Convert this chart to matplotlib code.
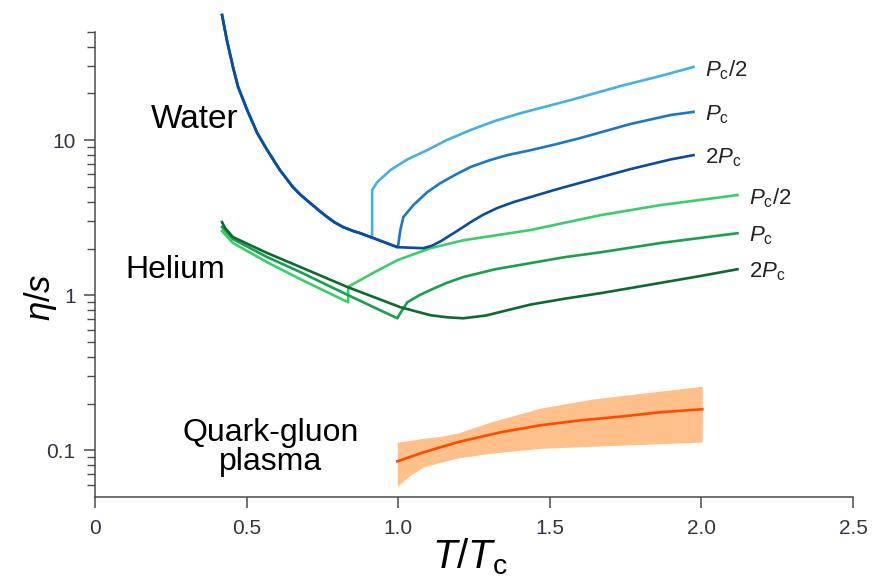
import matplotlib
matplotlib.use("Agg")
import matplotlib.pyplot as plt
from matplotlib.ticker import FixedLocator, NullFormatter, FuncFormatter

plt.rcParams['font.family'] = ['Liberation Sans', 'DejaVu Sans']
plt.rcParams['mathtext.fontset'] = 'custom'
plt.rcParams['mathtext.rm'] = 'Liberation Sans'
plt.rcParams['mathtext.it'] = 'Liberation Sans:italic'

# ---- data (T/Tc, eta/s) ----
# water, shared low-temperature branch
water_low_x = [0.419, 0.435, 0.455, 0.472, 0.502, 0.535, 0.568, 0.61, 0.653, 0.68, 0.71, 0.74, 0.766,
               0.79, 0.818, 0.85, 0.875, 0.914]
water_low_y = [64.0, 44.0, 29.6, 22.0, 15.6, 11.1, 8.62, 6.4, 4.97, 4.4, 3.92, 3.5, 3.19,
               2.95, 2.75, 2.6, 2.51, 2.34]

water_half_x = [0.914, 0.931, 0.974, 1.03, 1.096, 1.16, 1.238, 1.32, 1.403, 1.568, 1.733, 1.865, 1.974]
water_half_y = [4.76, 5.36, 6.4, 7.5, 8.62, 10.0, 11.6, 13.3, 14.9, 18.1, 22.3, 25.9, 29.6]

water_pc_x = [0.94, 0.997, 1.0, 1.007, 1.017, 1.05, 1.096, 1.139, 1.19, 1.238, 1.30, 1.36, 1.436,
              1.52, 1.60, 1.766, 1.898, 1.974]
water_pc_y = [2.25, 2.04, 2.1, 2.63, 3.19, 3.81, 4.62, 5.28, 6.0, 6.7, 7.4, 8.0, 8.6,
              9.4, 10.3, 12.7, 14.5, 15.2]

water_2pc_x = [0.94, 0.997, 1.05, 1.083, 1.11, 1.139, 1.195, 1.238, 1.28, 1.327, 1.38, 1.436, 1.52,
               1.60, 1.766, 1.898, 1.974]
water_2pc_y = [2.25, 2.04, 2.02, 2.01, 2.08, 2.22, 2.6, 2.95, 3.3, 3.65, 3.98, 4.29, 4.8,
               5.3, 6.5, 7.5, 8.0]

# helium
he_half_x = [0.419, 0.455, 0.568, 0.677, 0.835, 0.835, 0.851, 0.917, 0.997, 1.106, 1.215, 1.436,
             1.667, 1.865, 2.119]
he_half_y = [2.59, 2.17, 1.63, 1.27, 0.90, 1.13, 1.18, 1.39, 1.68, 2.01, 2.26, 2.63,
             3.28, 3.81, 4.42]

he_pc_x = [0.419, 0.455, 0.568, 0.677, 0.835, 0.997, 1.013, 1.03, 1.07, 1.106, 1.16, 1.215, 1.32,
           1.436, 1.55, 1.667, 1.865, 2.119]
he_pc_y = [2.75, 2.30, 1.76, 1.41, 1.0, 0.71, 0.80, 0.90, 1.0, 1.08, 1.2, 1.31, 1.47,
           1.61, 1.76, 1.89, 2.17, 2.51]

he_2pc_x = [0.419, 0.429, 0.455, 0.568, 0.677, 0.832, 1.007, 1.106, 1.162, 1.215, 1.29, 1.36, 1.436,
            1.55, 1.667, 1.832, 1.997, 2.119]
he_2pc_y = [2.96, 2.71, 2.37, 1.87, 1.52, 1.13, 0.837, 0.743, 0.72, 0.71, 0.74, 0.80, 0.87,
            0.95, 1.03, 1.17, 1.33, 1.47]

# quark-gluon plasma: central value and band
qgp_x = [0.997, 1.083, 1.195, 1.337, 1.469, 1.601, 1.743, 1.865, 2.003]
qgp_y = [0.0849, 0.097, 0.1127, 0.1306, 0.145, 0.156, 0.1657, 0.176, 0.184]
band_x = [0.997, 1.040, 1.083, 1.139, 1.195, 1.304, 1.469, 1.634, 1.743, 2.003]
band_hi = [0.1127, 0.116, 0.1195, 0.123, 0.129, 0.152, 0.187, 0.213, 0.226, 0.259]
band_lo = [0.0586, 0.069, 0.078, 0.0837, 0.089, 0.0957, 0.103, 0.106, 0.108, 0.113]

xticks = [0, 0.5, 1.0, 1.5, 2.0, 2.5]
xticklabels = ['0', '0.5', '1.0', '1.5', '2.0', '2.5']
yticks = [0.1, 1, 10]
yticklabels = ['0.1', '1', '10']
yminor = [m * 10.0 ** e for e in (-2, -1, 0, 1) for m in range(2, 10) if 0.055 < m * 10.0 ** e <= 50]

# colours
c_w_half, c_w_pc, c_w_2pc = '#45b0e2', '#1b78c2', '#0b4d9c'
c_h_half, c_h_pc, c_h_2pc = '#3ccd6b', '#1b9e4d', '#0d6a2f'
c_qgp, c_band = '#ff4a00', '#ffc08c'
axis_col = '#4a4a4a'

fig = plt.figure(figsize=(8.72, 5.81), dpi=100)
ax = fig.add_axes([95 / 872, 84 / 581, 758 / 872, 488 / 581])

ax.set_xlim(0, 2.5)
ax.set_yscale('log')
ax.set_ylim(0.05, 70)

lw = 1.9
ax.fill_between(band_x, band_lo, band_hi, color=c_band, lw=0)
ax.plot(qgp_x, qgp_y, color=c_qgp, lw=lw)

ax.plot(he_half_x, he_half_y, color=c_h_half, lw=lw)
ax.plot(he_pc_x, he_pc_y, color=c_h_pc, lw=lw)
ax.plot(he_2pc_x, he_2pc_y, color=c_h_2pc, lw=lw)

ax.plot(water_low_x + water_half_x, water_low_y + water_half_y, color=c_w_half, lw=lw)
ax.plot(water_low_x[:-1] + water_pc_x, water_low_y[:-1] + water_pc_y, color=c_w_pc, lw=lw)
ax.plot(water_low_x[:-1] + water_2pc_x, water_low_y[:-1] + water_2pc_y, color=c_w_2pc, lw=lw)

# end-of-curve labels
lab_fs = 16
for xs, ys, txt in [(water_half_x, water_half_y, r'$P_{\mathrm{c}}/2$'),
                    (water_pc_x, water_pc_y, r'$P_{\mathrm{c}}$'),
                    (water_2pc_x, water_2pc_y, r'$2P_{\mathrm{c}}$'),
                    (he_half_x, he_half_y, r'$P_{\mathrm{c}}/2$'),
                    (he_pc_x, he_pc_y, r'$P_{\mathrm{c}}$'),
                    (he_2pc_x, he_2pc_y, r'$2P_{\mathrm{c}}$')]:
    ax.annotate(txt, xy=(xs[-1], ys[-1]), xytext=(8, -2), textcoords='offset points',
                fontsize=lab_fs, ha='left', va='center', color='#222222')

ax.text(0.33, 13.5, 'Water', fontsize=24, ha='center', va='center')
ax.text(0.265, 1.45, 'Helium', fontsize=23, ha='center', va='center')
ax.text(0.578, 0.1045, 'Quark-gluon\nplasma', fontsize=23, ha='center', va='center',
        linespacing=0.95)

for s in ['top', 'right']:
    ax.spines[s].set_visible(False)
for s in ['left', 'bottom']:
    ax.spines[s].set_color(axis_col)
    ax.spines[s].set_linewidth(1.1)
ax.spines['left'].set_bounds(0.05, 50)

ax.xaxis.set_major_locator(FixedLocator(xticks))
ax.set_xticklabels(xticklabels)
ax.yaxis.set_major_locator(FixedLocator(yticks))
ax.yaxis.set_major_formatter(FuncFormatter(lambda v, p: yticklabels[yticks.index(v)] if v in yticks else ''))
ax.yaxis.set_minor_locator(FixedLocator(yminor))
ax.yaxis.set_minor_formatter(NullFormatter())

ax.tick_params(axis='both', which='major', length=8, width=1.1, color=axis_col,
               labelsize=15, labelcolor='#333344', pad=6)
ax.tick_params(axis='y', which='minor', length=6, width=1.0, color=axis_col)
ax.tick_params(axis='x', pad=8)

fig.text(40 / 872, 1 - 297 / 581, r'$\eta/s$', fontsize=25, rotation=90, ha='center', va='center')
fig.text(470 / 872, 1 - 557 / 581, r'$T/T_{\mathrm{c}}$', fontsize=29, ha='center', va='center')

fig.savefig('out.png', dpi=100)
